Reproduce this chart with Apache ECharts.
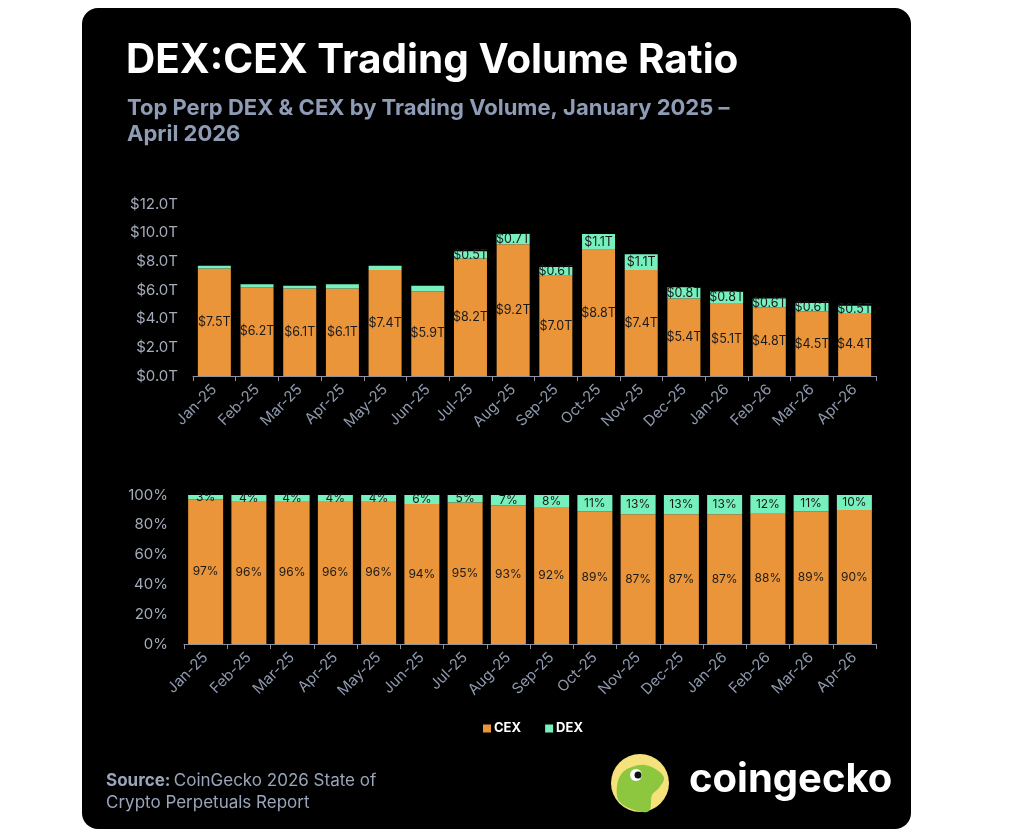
<!DOCTYPE html>
<html>
<head>
<meta charset="utf-8">
<title>DEX:CEX Trading Volume Ratio</title>
<script src="https://cdn.jsdelivr.net/npm/echarts@6/dist/echarts.min.js"></script>
<style>
  html, body { margin: 0; padding: 0; background: #fff; }
  #chart { width: 1024px; height: 837px; }
</style>
</head>
<body>
<div id="chart"></div>
<script>
// months on both charts
var months = ['Jan-25', 'Feb-25', 'Mar-25', 'Apr-25', 'May-25', 'Jun-25', 'Jul-25', 'Aug-25',
  'Sep-25', 'Oct-25', 'Nov-25', 'Dec-25', 'Jan-26', 'Feb-26', 'Mar-26', 'Apr-26'];

// trading volume, trillion USD
var cexVolume = [7.5, 6.2, 6.1, 6.1, 7.4, 5.9, 8.2, 9.2, 7.0, 8.8, 7.4, 5.4, 5.1, 4.8, 4.5, 4.4];
var dexVolume = [0.2, 0.2, 0.2, 0.3, 0.3, 0.4, 0.5, 0.7, 0.6, 1.1, 1.1, 0.8, 0.8, 0.6, 0.6, 0.5];

// share of total volume, %
var cexShare = [97, 96, 96, 96, 96, 94, 95, 93, 92, 89, 87, 87, 87, 88, 89, 90];
var dexShare = [3, 4, 4, 4, 4, 6, 5, 7, 8, 11, 13, 13, 13, 12, 11, 10];

var ORANGE = '#eb953a';
var MINT = '#76f0bd';
var FONT = 'Inter';

var chart = echarts.init(document.getElementById('chart'));

var xAxisBase = {
  type: 'category',
  data: months,
  axisLine: { lineStyle: { color: '#8d939e', width: 1 } },
  axisTick: { show: true, length: 5, lineStyle: { color: '#8d939e' } },
  axisLabel: { rotate: 45, color: '#8e99ad', fontSize: 15, fontFamily: FONT, margin: 11, interval: 0 }
};

var option = {
  backgroundColor: '#ffffff',
  animation: false,
  graphic: [
    { type: 'rect', shape: { x: 82, y: 8, width: 829, height: 821, r: 16 }, style: { fill: '#000' }, z: -10 },
    { type: 'text', x: 126, y: 40, style: { text: 'DEX:CEX Trading Volume Ratio', fill: '#fff', font: 'bold 40.5px Inter' } },
    { type: 'text', x: 127, y: 95, style: { text: 'Top Perp DEX & CEX by Trading Volume, January 2025 \u2013\nApril 2026', fill: '#8f9cb6', font: 'bold 22px Inter', lineHeight: 26 } },
    { type: 'text', x: 106, y: 770, style: { rich: { b: { fontWeight: 'bold', fontSize: 17, fontFamily: FONT, fill: '#9aa5ba' }, n: { fontSize: 17, fontFamily: FONT, fill: '#9aa5ba' } },
      text: '{b|Source:} {n|CoinGecko 2026 State of}\n{n|Crypto Perpetuals Report}', lineHeight: 22 } },
    // logo
    { type: 'circle', shape: { cx: 640, cy: 783, r: 29 }, style: { fill: '#f6e27c' } },
    { type: 'polygon', shape: { smooth: 0.35, points: [[619, 801], [617, 786], [622, 773], [632, 767], [645, 765], [657, 770], [664, 778], [659, 788], [652, 795], [649, 811], [634, 810]] }, style: { fill: '#8dc63f' } },
    { type: 'circle', shape: { cx: 636, cy: 775, r: 6 }, style: { fill: '#fff' } },
    { type: 'circle', shape: { cx: 638, cy: 775, r: 3.5 }, style: { fill: '#111' } },
    { type: 'text', x: 689, y: 760, style: { text: 'coingecko', fill: '#fff', font: 'bold 40px Inter' } }
  ],
  legend: {
    data: ['CEX', 'DEX'],
    left: 478, top: 717,
    icon: 'rect', itemWidth: 8, itemHeight: 8, itemGap: 24,
    textStyle: { color: '#fff', fontWeight: 'bold', fontSize: 13, fontFamily: FONT, padding: [0, 0, 0, -2] }
  },
  grid: [
    { left: 193, right: 148, top: 204, bottom: 461 },
    { left: 184, right: 148, top: 495, bottom: 193 }
  ],
  xAxis: [
    Object.assign({ gridIndex: 0 }, xAxisBase),
    Object.assign({ gridIndex: 1 }, xAxisBase)
  ],
  yAxis: [
    { gridIndex: 0, type: 'value', min: 0, max: 12, interval: 2, splitLine: { show: false },
      axisLabel: { color: '#a4acbb', fontSize: 15, fontFamily: FONT, margin: 15,
        formatter: function (v) { return '$' + v.toFixed(1) + 'T'; } } },
    { gridIndex: 1, type: 'value', min: 0, max: 100, interval: 20, splitLine: { show: false },
      axisLabel: { color: '#a4acbb', fontSize: 15, fontFamily: FONT, margin: 16, formatter: '{value}%' } }
  ],
  series: [
    { name: 'CEX', type: 'bar', stack: 'vol', xAxisIndex: 0, yAxisIndex: 0, data: cexVolume, barWidth: 33,
      itemStyle: { color: ORANGE },
      label: { show: true, position: 'inside', color: '#1a1a1a', fontSize: 12.5, fontFamily: FONT,
        formatter: function (p) { return '$' + p.value.toFixed(1) + 'T'; } } },
    { name: 'DEX', type: 'bar', stack: 'vol', xAxisIndex: 0, yAxisIndex: 0, data: dexVolume, barWidth: 33,
      itemStyle: { color: MINT },
      label: { show: true, position: 'inside', color: '#1a1a1a', fontSize: 12.5, fontFamily: FONT,
        formatter: function (p) { return p.value >= 0.5 ? '$' + p.value.toFixed(1) + 'T' : ''; } } },
    { name: 'CEX', type: 'bar', stack: 'share', xAxisIndex: 1, yAxisIndex: 1, data: cexShare, barWidth: 35,
      itemStyle: { color: ORANGE },
      label: { show: true, position: 'inside', color: '#1a1a1a', fontSize: 12, fontFamily: FONT, formatter: '{c}%' } },
    { name: 'DEX', type: 'bar', stack: 'share', xAxisIndex: 1, yAxisIndex: 1, data: dexShare, barWidth: 35,
      itemStyle: { color: MINT },
      label: { show: true, position: 'inside', color: '#1a1a1a', fontSize: 12, fontFamily: FONT, formatter: '{c}%' } }
  ]
};

chart.setOption(option);
</script>
</body>
</html>
